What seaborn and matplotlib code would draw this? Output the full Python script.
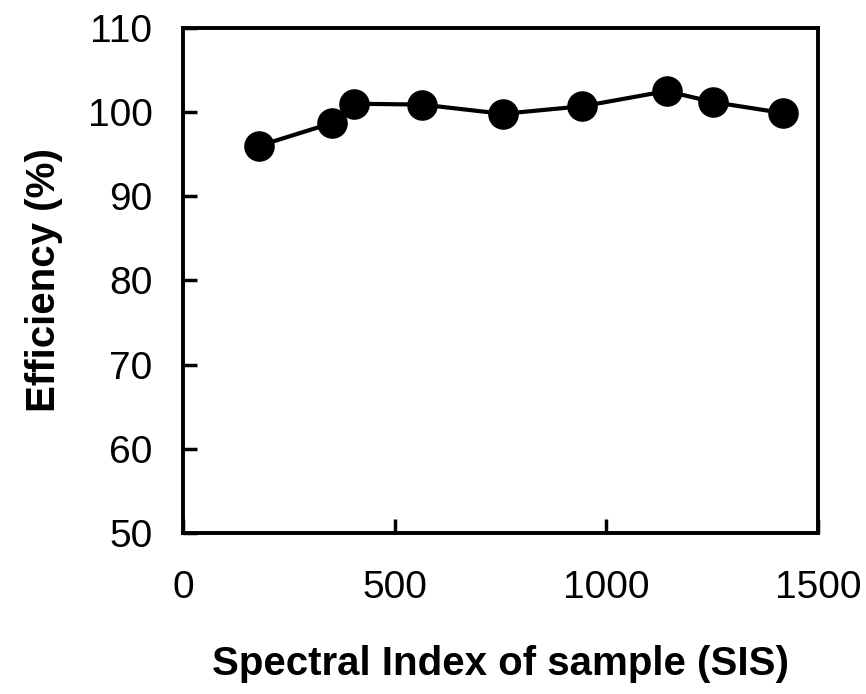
import matplotlib
matplotlib.use("Agg")
import matplotlib.pyplot as plt
import seaborn as sns
import pandas as pd

sis = [180, 352, 404, 564, 756, 944, 1143, 1252, 1417]
efficiency = [96.0, 98.7, 101.0, 100.9, 99.8, 100.7, 102.5, 101.2, 99.9]
x_ticks = [0, 500, 1000, 1500]
y_ticks = [50, 60, 70, 80, 90, 100, 110]

sns.set_theme(style="ticks")
plt.rcParams['font.family'] = ['Liberation Sans', 'DejaVu Sans']
plt.rcParams['text.color'] = 'black'
plt.rcParams['axes.labelcolor'] = 'black'

df = pd.DataFrame({"SIS": sis, "Efficiency": efficiency})

fig = plt.figure(figsize=(8.66, 6.94), dpi=100)
ax = fig.add_axes([0.2113, 0.232, 0.733, 0.7277])
sns.lineplot(data=df, x="SIS", y="Efficiency", ax=ax, color="black",
             linewidth=3, marker="o", markersize=21, markeredgecolor="black",
             markeredgewidth=1, markerfacecolor="black")

ax.set_xlim(0, 1500)
ax.set_ylim(50, 110)
ax.set_xticks(x_ticks)
ax.set_yticks(y_ticks)
ax.tick_params(direction="in", length=10, width=2.5, labelsize=28, colors="black")
ax.tick_params(axis="x", pad=27)
ax.tick_params(axis="y", pad=22)
for s in ax.spines.values():
    s.set_linewidth(2.8)
    s.set_color("black")
ax.set_xlabel("Spectral Index of sample (SIS)", fontsize=29, fontweight="bold", labelpad=28)
ax.set_ylabel("Efficiency (%)", fontsize=29, fontweight="bold", labelpad=18)

fig.savefig("out.png", dpi=100)
